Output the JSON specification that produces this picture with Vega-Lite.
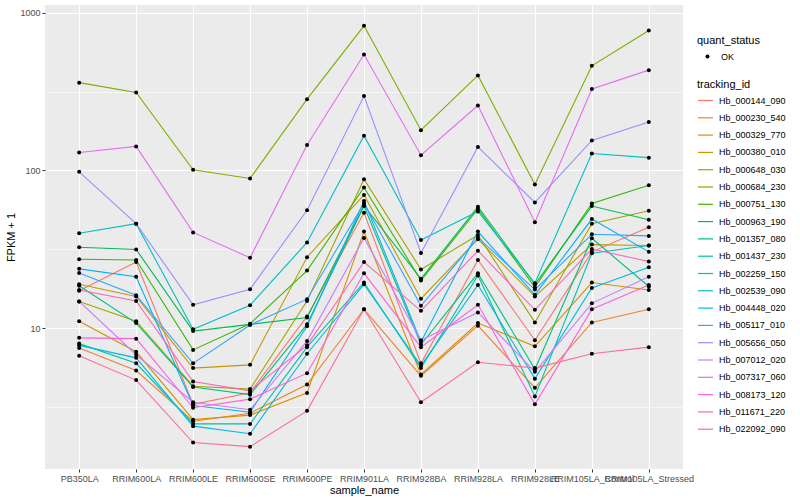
{
"$schema": "https://vega.github.io/schema/vega-lite/v6.json",
"width": 638, "height": 464,
"autosize": {"type": "none"},
"padding": {"left": 45, "top": 5, "right": 117, "bottom": 31},
"background": "white",
"config": {
  "view": {"fill": "#EBEBEB", "stroke": null},
  "font": "Liberation Sans",
  "axis": {"domain": false, "gridColor": "white", "tickColor": "#333333", "tickSize": 3, "labelColor": "#4D4D4D", "labelFontSize": 9, "labelFont": "Liberation Sans", "titleFont": "Liberation Sans", "titleFontSize": 11, "titleFontWeight": "normal", "titleColor": "black", "labelPadding": 2},
  "legend": {"titleFont": "Liberation Sans", "labelFont": "Liberation Sans", "titleFontSize": 11, "titleFontWeight": "normal", "labelFontSize": 9, "labelColor": "black", "titleColor": "black", "padding": 0}
},
"datasets": {"d": [
{"tracking_id":"Hb_000144_090","sample_name":"PB350LA","FPKM":17.3,"quant_status":"OK"},
{"tracking_id":"Hb_000144_090","sample_name":"RRIM600LA","FPKM":26.3,"quant_status":"OK"},
{"tracking_id":"Hb_000144_090","sample_name":"RRIM600LE","FPKM":3.3,"quant_status":"OK"},
{"tracking_id":"Hb_000144_090","sample_name":"RRIM600SE","FPKM":3.91,"quant_status":"OK"},
{"tracking_id":"Hb_000144_090","sample_name":"RRIM600PE","FPKM":11.9,"quant_status":"OK"},
{"tracking_id":"Hb_000144_090","sample_name":"RRIM901LA","FPKM":54,"quant_status":"OK"},
{"tracking_id":"Hb_000144_090","sample_name":"RRIM928BA","FPKM":6.0,"quant_status":"OK"},
{"tracking_id":"Hb_000144_090","sample_name":"RRIM928LA","FPKM":27.1,"quant_status":"OK"},
{"tracking_id":"Hb_000144_090","sample_name":"RRIM928LE","FPKM":8.4,"quant_status":"OK"},
{"tracking_id":"Hb_000144_090","sample_name":"RRIM105LA_Control","FPKM":30.5,"quant_status":"OK"},
{"tracking_id":"Hb_000144_090","sample_name":"RRIM105LA_Stressed","FPKM":43.7,"quant_status":"OK"},
{"tracking_id":"Hb_000230_540","sample_name":"PB350LA","FPKM":7.5,"quant_status":"OK"},
{"tracking_id":"Hb_000230_540","sample_name":"RRIM600LA","FPKM":5.4,"quant_status":"OK"},
{"tracking_id":"Hb_000230_540","sample_name":"RRIM600LE","FPKM":2.58,"quant_status":"OK"},
{"tracking_id":"Hb_000230_540","sample_name":"RRIM600SE","FPKM":2.9,"quant_status":"OK"},
{"tracking_id":"Hb_000230_540","sample_name":"RRIM600PE","FPKM":4.4,"quant_status":"OK"},
{"tracking_id":"Hb_000230_540","sample_name":"RRIM901LA","FPKM":13.2,"quant_status":"OK"},
{"tracking_id":"Hb_000230_540","sample_name":"RRIM928BA","FPKM":5.0,"quant_status":"OK"},
{"tracking_id":"Hb_000230_540","sample_name":"RRIM928LA","FPKM":10.4,"quant_status":"OK"},
{"tracking_id":"Hb_000230_540","sample_name":"RRIM928LE","FPKM":4.2,"quant_status":"OK"},
{"tracking_id":"Hb_000230_540","sample_name":"RRIM105LA_Control","FPKM":10.9,"quant_status":"OK"},
{"tracking_id":"Hb_000230_540","sample_name":"RRIM105LA_Stressed","FPKM":13.2,"quant_status":"OK"},
{"tracking_id":"Hb_000329_770","sample_name":"PB350LA","FPKM":11.1,"quant_status":"OK"},
{"tracking_id":"Hb_000329_770","sample_name":"RRIM600LA","FPKM":7.1,"quant_status":"OK"},
{"tracking_id":"Hb_000329_770","sample_name":"RRIM600LE","FPKM":2.64,"quant_status":"OK"},
{"tracking_id":"Hb_000329_770","sample_name":"RRIM600SE","FPKM":2.82,"quant_status":"OK"},
{"tracking_id":"Hb_000329_770","sample_name":"RRIM600PE","FPKM":3.9,"quant_status":"OK"},
{"tracking_id":"Hb_000329_770","sample_name":"RRIM901LA","FPKM":41,"quant_status":"OK"},
{"tracking_id":"Hb_000329_770","sample_name":"RRIM928BA","FPKM":5.1,"quant_status":"OK"},
{"tracking_id":"Hb_000329_770","sample_name":"RRIM928LA","FPKM":10.8,"quant_status":"OK"},
{"tracking_id":"Hb_000329_770","sample_name":"RRIM928LE","FPKM":7.7,"quant_status":"OK"},
{"tracking_id":"Hb_000329_770","sample_name":"RRIM105LA_Control","FPKM":19.5,"quant_status":"OK"},
{"tracking_id":"Hb_000329_770","sample_name":"RRIM105LA_Stressed","FPKM":17.5,"quant_status":"OK"},
{"tracking_id":"Hb_000380_010","sample_name":"PB350LA","FPKM":19,"quant_status":"OK"},
{"tracking_id":"Hb_000380_010","sample_name":"RRIM600LA","FPKM":15.9,"quant_status":"OK"},
{"tracking_id":"Hb_000380_010","sample_name":"RRIM600LE","FPKM":5.6,"quant_status":"OK"},
{"tracking_id":"Hb_000380_010","sample_name":"RRIM600SE","FPKM":5.87,"quant_status":"OK"},
{"tracking_id":"Hb_000380_010","sample_name":"RRIM600PE","FPKM":28.2,"quant_status":"OK"},
{"tracking_id":"Hb_000380_010","sample_name":"RRIM901LA","FPKM":70,"quant_status":"OK"},
{"tracking_id":"Hb_000380_010","sample_name":"RRIM928BA","FPKM":15.4,"quant_status":"OK"},
{"tracking_id":"Hb_000380_010","sample_name":"RRIM928LA","FPKM":36.7,"quant_status":"OK"},
{"tracking_id":"Hb_000380_010","sample_name":"RRIM928LE","FPKM":15.9,"quant_status":"OK"},
{"tracking_id":"Hb_000380_010","sample_name":"RRIM105LA_Control","FPKM":33.9,"quant_status":"OK"},
{"tracking_id":"Hb_000380_010","sample_name":"RRIM105LA_Stressed","FPKM":33.5,"quant_status":"OK"},
{"tracking_id":"Hb_000648_030","sample_name":"PB350LA","FPKM":14.8,"quant_status":"OK"},
{"tracking_id":"Hb_000648_030","sample_name":"RRIM600LA","FPKM":11.1,"quant_status":"OK"},
{"tracking_id":"Hb_000648_030","sample_name":"RRIM600LE","FPKM":4.3,"quant_status":"OK"},
{"tracking_id":"Hb_000648_030","sample_name":"RRIM600SE","FPKM":4.12,"quant_status":"OK"},
{"tracking_id":"Hb_000648_030","sample_name":"RRIM600PE","FPKM":14.9,"quant_status":"OK"},
{"tracking_id":"Hb_000648_030","sample_name":"RRIM901LA","FPKM":88,"quant_status":"OK"},
{"tracking_id":"Hb_000648_030","sample_name":"RRIM928BA","FPKM":23.6,"quant_status":"OK"},
{"tracking_id":"Hb_000648_030","sample_name":"RRIM928LA","FPKM":39,"quant_status":"OK"},
{"tracking_id":"Hb_000648_030","sample_name":"RRIM928LE","FPKM":10.9,"quant_status":"OK"},
{"tracking_id":"Hb_000648_030","sample_name":"RRIM105LA_Control","FPKM":46,"quant_status":"OK"},
{"tracking_id":"Hb_000648_030","sample_name":"RRIM105LA_Stressed","FPKM":55.6,"quant_status":"OK"},
{"tracking_id":"Hb_000684_230","sample_name":"PB350LA","FPKM":360,"quant_status":"OK"},
{"tracking_id":"Hb_000684_230","sample_name":"RRIM600LA","FPKM":312,"quant_status":"OK"},
{"tracking_id":"Hb_000684_230","sample_name":"RRIM600LE","FPKM":101,"quant_status":"OK"},
{"tracking_id":"Hb_000684_230","sample_name":"RRIM600SE","FPKM":89,"quant_status":"OK"},
{"tracking_id":"Hb_000684_230","sample_name":"RRIM600PE","FPKM":283,"quant_status":"OK"},
{"tracking_id":"Hb_000684_230","sample_name":"RRIM901LA","FPKM":824,"quant_status":"OK"},
{"tracking_id":"Hb_000684_230","sample_name":"RRIM928BA","FPKM":180,"quant_status":"OK"},
{"tracking_id":"Hb_000684_230","sample_name":"RRIM928LA","FPKM":400,"quant_status":"OK"},
{"tracking_id":"Hb_000684_230","sample_name":"RRIM928LE","FPKM":81.5,"quant_status":"OK"},
{"tracking_id":"Hb_000684_230","sample_name":"RRIM105LA_Control","FPKM":460,"quant_status":"OK"},
{"tracking_id":"Hb_000684_230","sample_name":"RRIM105LA_Stressed","FPKM":770,"quant_status":"OK"},
{"tracking_id":"Hb_000751_130","sample_name":"PB350LA","FPKM":27.4,"quant_status":"OK"},
{"tracking_id":"Hb_000751_130","sample_name":"RRIM600LA","FPKM":27.1,"quant_status":"OK"},
{"tracking_id":"Hb_000751_130","sample_name":"RRIM600LE","FPKM":7.3,"quant_status":"OK"},
{"tracking_id":"Hb_000751_130","sample_name":"RRIM600SE","FPKM":10.7,"quant_status":"OK"},
{"tracking_id":"Hb_000751_130","sample_name":"RRIM600PE","FPKM":23.2,"quant_status":"OK"},
{"tracking_id":"Hb_000751_130","sample_name":"RRIM901LA","FPKM":78,"quant_status":"OK"},
{"tracking_id":"Hb_000751_130","sample_name":"RRIM928BA","FPKM":20.1,"quant_status":"OK"},
{"tracking_id":"Hb_000751_130","sample_name":"RRIM928LA","FPKM":57,"quant_status":"OK"},
{"tracking_id":"Hb_000751_130","sample_name":"RRIM928LE","FPKM":18.2,"quant_status":"OK"},
{"tracking_id":"Hb_000751_130","sample_name":"RRIM105LA_Control","FPKM":61.8,"quant_status":"OK"},
{"tracking_id":"Hb_000751_130","sample_name":"RRIM105LA_Stressed","FPKM":80.5,"quant_status":"OK"},
{"tracking_id":"Hb_000963_190","sample_name":"PB350LA","FPKM":32.6,"quant_status":"OK"},
{"tracking_id":"Hb_000963_190","sample_name":"RRIM600LA","FPKM":31.6,"quant_status":"OK"},
{"tracking_id":"Hb_000963_190","sample_name":"RRIM600LE","FPKM":9.6,"quant_status":"OK"},
{"tracking_id":"Hb_000963_190","sample_name":"RRIM600SE","FPKM":10.6,"quant_status":"OK"},
{"tracking_id":"Hb_000963_190","sample_name":"RRIM600PE","FPKM":11.7,"quant_status":"OK"},
{"tracking_id":"Hb_000963_190","sample_name":"RRIM901LA","FPKM":60,"quant_status":"OK"},
{"tracking_id":"Hb_000963_190","sample_name":"RRIM928BA","FPKM":20.6,"quant_status":"OK"},
{"tracking_id":"Hb_000963_190","sample_name":"RRIM928LA","FPKM":59,"quant_status":"OK"},
{"tracking_id":"Hb_000963_190","sample_name":"RRIM928LE","FPKM":19,"quant_status":"OK"},
{"tracking_id":"Hb_000963_190","sample_name":"RRIM105LA_Control","FPKM":59.5,"quant_status":"OK"},
{"tracking_id":"Hb_000963_190","sample_name":"RRIM105LA_Stressed","FPKM":48.7,"quant_status":"OK"},
{"tracking_id":"Hb_001357_080","sample_name":"PB350LA","FPKM":18.6,"quant_status":"OK"},
{"tracking_id":"Hb_001357_080","sample_name":"RRIM600LA","FPKM":10.8,"quant_status":"OK"},
{"tracking_id":"Hb_001357_080","sample_name":"RRIM600LE","FPKM":4.25,"quant_status":"OK"},
{"tracking_id":"Hb_001357_080","sample_name":"RRIM600SE","FPKM":3.8,"quant_status":"OK"},
{"tracking_id":"Hb_001357_080","sample_name":"RRIM600PE","FPKM":10.6,"quant_status":"OK"},
{"tracking_id":"Hb_001357_080","sample_name":"RRIM901LA","FPKM":59.5,"quant_status":"OK"},
{"tracking_id":"Hb_001357_080","sample_name":"RRIM928BA","FPKM":7.9,"quant_status":"OK"},
{"tracking_id":"Hb_001357_080","sample_name":"RRIM928LA","FPKM":22.3,"quant_status":"OK"},
{"tracking_id":"Hb_001357_080","sample_name":"RRIM928LE","FPKM":5.5,"quant_status":"OK"},
{"tracking_id":"Hb_001357_080","sample_name":"RRIM105LA_Control","FPKM":37.2,"quant_status":"OK"},
{"tracking_id":"Hb_001357_080","sample_name":"RRIM105LA_Stressed","FPKM":18.4,"quant_status":"OK"},
{"tracking_id":"Hb_001437_230","sample_name":"PB350LA","FPKM":8.0,"quant_status":"OK"},
{"tracking_id":"Hb_001437_230","sample_name":"RRIM600LA","FPKM":6.0,"quant_status":"OK"},
{"tracking_id":"Hb_001437_230","sample_name":"RRIM600LE","FPKM":2.48,"quant_status":"OK"},
{"tracking_id":"Hb_001437_230","sample_name":"RRIM600SE","FPKM":2.48,"quant_status":"OK"},
{"tracking_id":"Hb_001437_230","sample_name":"RRIM600PE","FPKM":7.6,"quant_status":"OK"},
{"tracking_id":"Hb_001437_230","sample_name":"RRIM901LA","FPKM":19.5,"quant_status":"OK"},
{"tracking_id":"Hb_001437_230","sample_name":"RRIM928BA","FPKM":5.6,"quant_status":"OK"},
{"tracking_id":"Hb_001437_230","sample_name":"RRIM928LA","FPKM":21.6,"quant_status":"OK"},
{"tracking_id":"Hb_001437_230","sample_name":"RRIM928LE","FPKM":3.7,"quant_status":"OK"},
{"tracking_id":"Hb_001437_230","sample_name":"RRIM105LA_Control","FPKM":29.9,"quant_status":"OK"},
{"tracking_id":"Hb_001437_230","sample_name":"RRIM105LA_Stressed","FPKM":33.5,"quant_status":"OK"},
{"tracking_id":"Hb_002259_150","sample_name":"PB350LA","FPKM":40,"quant_status":"OK"},
{"tracking_id":"Hb_002259_150","sample_name":"RRIM600LA","FPKM":46,"quant_status":"OK"},
{"tracking_id":"Hb_002259_150","sample_name":"RRIM600LE","FPKM":9.87,"quant_status":"OK"},
{"tracking_id":"Hb_002259_150","sample_name":"RRIM600SE","FPKM":14.0,"quant_status":"OK"},
{"tracking_id":"Hb_002259_150","sample_name":"RRIM600PE","FPKM":35,"quant_status":"OK"},
{"tracking_id":"Hb_002259_150","sample_name":"RRIM901LA","FPKM":166,"quant_status":"OK"},
{"tracking_id":"Hb_002259_150","sample_name":"RRIM928BA","FPKM":36.3,"quant_status":"OK"},
{"tracking_id":"Hb_002259_150","sample_name":"RRIM928LA","FPKM":55,"quant_status":"OK"},
{"tracking_id":"Hb_002259_150","sample_name":"RRIM928LE","FPKM":19.3,"quant_status":"OK"},
{"tracking_id":"Hb_002259_150","sample_name":"RRIM105LA_Control","FPKM":128,"quant_status":"OK"},
{"tracking_id":"Hb_002259_150","sample_name":"RRIM105LA_Stressed","FPKM":120.5,"quant_status":"OK"},
{"tracking_id":"Hb_002539_090","sample_name":"PB350LA","FPKM":7.8,"quant_status":"OK"},
{"tracking_id":"Hb_002539_090","sample_name":"RRIM600LA","FPKM":6.5,"quant_status":"OK"},
{"tracking_id":"Hb_002539_090","sample_name":"RRIM600LE","FPKM":2.4,"quant_status":"OK"},
{"tracking_id":"Hb_002539_090","sample_name":"RRIM600SE","FPKM":2.15,"quant_status":"OK"},
{"tracking_id":"Hb_002539_090","sample_name":"RRIM600PE","FPKM":6.9,"quant_status":"OK"},
{"tracking_id":"Hb_002539_090","sample_name":"RRIM901LA","FPKM":19.0,"quant_status":"OK"},
{"tracking_id":"Hb_002539_090","sample_name":"RRIM928BA","FPKM":5.8,"quant_status":"OK"},
{"tracking_id":"Hb_002539_090","sample_name":"RRIM928LA","FPKM":18.8,"quant_status":"OK"},
{"tracking_id":"Hb_002539_090","sample_name":"RRIM928LE","FPKM":4.8,"quant_status":"OK"},
{"tracking_id":"Hb_002539_090","sample_name":"RRIM105LA_Control","FPKM":18.0,"quant_status":"OK"},
{"tracking_id":"Hb_002539_090","sample_name":"RRIM105LA_Stressed","FPKM":24.4,"quant_status":"OK"},
{"tracking_id":"Hb_004448_020","sample_name":"PB350LA","FPKM":23.8,"quant_status":"OK"},
{"tracking_id":"Hb_004448_020","sample_name":"RRIM600LA","FPKM":21.2,"quant_status":"OK"},
{"tracking_id":"Hb_004448_020","sample_name":"RRIM600LE","FPKM":3.24,"quant_status":"OK"},
{"tracking_id":"Hb_004448_020","sample_name":"RRIM600SE","FPKM":2.94,"quant_status":"OK"},
{"tracking_id":"Hb_004448_020","sample_name":"RRIM600PE","FPKM":10.3,"quant_status":"OK"},
{"tracking_id":"Hb_004448_020","sample_name":"RRIM901LA","FPKM":64,"quant_status":"OK"},
{"tracking_id":"Hb_004448_020","sample_name":"RRIM928BA","FPKM":8.2,"quant_status":"OK"},
{"tracking_id":"Hb_004448_020","sample_name":"RRIM928LA","FPKM":41,"quant_status":"OK"},
{"tracking_id":"Hb_004448_020","sample_name":"RRIM928LE","FPKM":16.3,"quant_status":"OK"},
{"tracking_id":"Hb_004448_020","sample_name":"RRIM105LA_Control","FPKM":49.2,"quant_status":"OK"},
{"tracking_id":"Hb_004448_020","sample_name":"RRIM105LA_Stressed","FPKM":30.5,"quant_status":"OK"},
{"tracking_id":"Hb_005117_010","sample_name":"PB350LA","FPKM":22.4,"quant_status":"OK"},
{"tracking_id":"Hb_005117_010","sample_name":"RRIM600LA","FPKM":16.2,"quant_status":"OK"},
{"tracking_id":"Hb_005117_010","sample_name":"RRIM600LE","FPKM":6.0,"quant_status":"OK"},
{"tracking_id":"Hb_005117_010","sample_name":"RRIM600SE","FPKM":10.5,"quant_status":"OK"},
{"tracking_id":"Hb_005117_010","sample_name":"RRIM600PE","FPKM":15.3,"quant_status":"OK"},
{"tracking_id":"Hb_005117_010","sample_name":"RRIM901LA","FPKM":62,"quant_status":"OK"},
{"tracking_id":"Hb_005117_010","sample_name":"RRIM928BA","FPKM":13.9,"quant_status":"OK"},
{"tracking_id":"Hb_005117_010","sample_name":"RRIM928LA","FPKM":37.5,"quant_status":"OK"},
{"tracking_id":"Hb_005117_010","sample_name":"RRIM928LE","FPKM":17.6,"quant_status":"OK"},
{"tracking_id":"Hb_005117_010","sample_name":"RRIM105LA_Control","FPKM":39.4,"quant_status":"OK"},
{"tracking_id":"Hb_005117_010","sample_name":"RRIM105LA_Stressed","FPKM":38.5,"quant_status":"OK"},
{"tracking_id":"Hb_005656_050","sample_name":"PB350LA","FPKM":98,"quant_status":"OK"},
{"tracking_id":"Hb_005656_050","sample_name":"RRIM600LA","FPKM":46,"quant_status":"OK"},
{"tracking_id":"Hb_005656_050","sample_name":"RRIM600LE","FPKM":14.1,"quant_status":"OK"},
{"tracking_id":"Hb_005656_050","sample_name":"RRIM600SE","FPKM":17.7,"quant_status":"OK"},
{"tracking_id":"Hb_005656_050","sample_name":"RRIM600PE","FPKM":56,"quant_status":"OK"},
{"tracking_id":"Hb_005656_050","sample_name":"RRIM901LA","FPKM":296,"quant_status":"OK"},
{"tracking_id":"Hb_005656_050","sample_name":"RRIM928BA","FPKM":30,"quant_status":"OK"},
{"tracking_id":"Hb_005656_050","sample_name":"RRIM928LA","FPKM":141,"quant_status":"OK"},
{"tracking_id":"Hb_005656_050","sample_name":"RRIM928LE","FPKM":62.7,"quant_status":"OK"},
{"tracking_id":"Hb_005656_050","sample_name":"RRIM105LA_Control","FPKM":155,"quant_status":"OK"},
{"tracking_id":"Hb_005656_050","sample_name":"RRIM105LA_Stressed","FPKM":203,"quant_status":"OK"},
{"tracking_id":"Hb_007012_020","sample_name":"PB350LA","FPKM":14.8,"quant_status":"OK"},
{"tracking_id":"Hb_007012_020","sample_name":"RRIM600LA","FPKM":6.8,"quant_status":"OK"},
{"tracking_id":"Hb_007012_020","sample_name":"RRIM600LE","FPKM":3.4,"quant_status":"OK"},
{"tracking_id":"Hb_007012_020","sample_name":"RRIM600SE","FPKM":3.05,"quant_status":"OK"},
{"tracking_id":"Hb_007012_020","sample_name":"RRIM600PE","FPKM":8.3,"quant_status":"OK"},
{"tracking_id":"Hb_007012_020","sample_name":"RRIM901LA","FPKM":37.4,"quant_status":"OK"},
{"tracking_id":"Hb_007012_020","sample_name":"RRIM928BA","FPKM":8.4,"quant_status":"OK"},
{"tracking_id":"Hb_007012_020","sample_name":"RRIM928LA","FPKM":12.6,"quant_status":"OK"},
{"tracking_id":"Hb_007012_020","sample_name":"RRIM928LE","FPKM":5.3,"quant_status":"OK"},
{"tracking_id":"Hb_007012_020","sample_name":"RRIM105LA_Control","FPKM":14.4,"quant_status":"OK"},
{"tracking_id":"Hb_007012_020","sample_name":"RRIM105LA_Stressed","FPKM":21.2,"quant_status":"OK"},
{"tracking_id":"Hb_007317_060","sample_name":"PB350LA","FPKM":130,"quant_status":"OK"},
{"tracking_id":"Hb_007317_060","sample_name":"RRIM600LA","FPKM":142,"quant_status":"OK"},
{"tracking_id":"Hb_007317_060","sample_name":"RRIM600LE","FPKM":40.5,"quant_status":"OK"},
{"tracking_id":"Hb_007317_060","sample_name":"RRIM600SE","FPKM":28,"quant_status":"OK"},
{"tracking_id":"Hb_007317_060","sample_name":"RRIM600PE","FPKM":145,"quant_status":"OK"},
{"tracking_id":"Hb_007317_060","sample_name":"RRIM901LA","FPKM":543,"quant_status":"OK"},
{"tracking_id":"Hb_007317_060","sample_name":"RRIM928BA","FPKM":125,"quant_status":"OK"},
{"tracking_id":"Hb_007317_060","sample_name":"RRIM928LA","FPKM":258,"quant_status":"OK"},
{"tracking_id":"Hb_007317_060","sample_name":"RRIM928LE","FPKM":47,"quant_status":"OK"},
{"tracking_id":"Hb_007317_060","sample_name":"RRIM105LA_Control","FPKM":328,"quant_status":"OK"},
{"tracking_id":"Hb_007317_060","sample_name":"RRIM105LA_Stressed","FPKM":432,"quant_status":"OK"},
{"tracking_id":"Hb_008173_120","sample_name":"PB350LA","FPKM":8.7,"quant_status":"OK"},
{"tracking_id":"Hb_008173_120","sample_name":"RRIM600LA","FPKM":8.6,"quant_status":"OK"},
{"tracking_id":"Hb_008173_120","sample_name":"RRIM600LE","FPKM":3.14,"quant_status":"OK"},
{"tracking_id":"Hb_008173_120","sample_name":"RRIM600SE","FPKM":3.56,"quant_status":"OK"},
{"tracking_id":"Hb_008173_120","sample_name":"RRIM600PE","FPKM":5.2,"quant_status":"OK"},
{"tracking_id":"Hb_008173_120","sample_name":"RRIM901LA","FPKM":22.3,"quant_status":"OK"},
{"tracking_id":"Hb_008173_120","sample_name":"RRIM928BA","FPKM":7.6,"quant_status":"OK"},
{"tracking_id":"Hb_008173_120","sample_name":"RRIM928LA","FPKM":14.1,"quant_status":"OK"},
{"tracking_id":"Hb_008173_120","sample_name":"RRIM928LE","FPKM":3.3,"quant_status":"OK"},
{"tracking_id":"Hb_008173_120","sample_name":"RRIM105LA_Control","FPKM":13.2,"quant_status":"OK"},
{"tracking_id":"Hb_008173_120","sample_name":"RRIM105LA_Stressed","FPKM":18.8,"quant_status":"OK"},
{"tracking_id":"Hb_011671_220","sample_name":"PB350LA","FPKM":17.5,"quant_status":"OK"},
{"tracking_id":"Hb_011671_220","sample_name":"RRIM600LA","FPKM":14.9,"quant_status":"OK"},
{"tracking_id":"Hb_011671_220","sample_name":"RRIM600LE","FPKM":4.6,"quant_status":"OK"},
{"tracking_id":"Hb_011671_220","sample_name":"RRIM600SE","FPKM":4.02,"quant_status":"OK"},
{"tracking_id":"Hb_011671_220","sample_name":"RRIM600PE","FPKM":7.8,"quant_status":"OK"},
{"tracking_id":"Hb_011671_220","sample_name":"RRIM901LA","FPKM":26.3,"quant_status":"OK"},
{"tracking_id":"Hb_011671_220","sample_name":"RRIM928BA","FPKM":12.9,"quant_status":"OK"},
{"tracking_id":"Hb_011671_220","sample_name":"RRIM928LA","FPKM":31,"quant_status":"OK"},
{"tracking_id":"Hb_011671_220","sample_name":"RRIM928LE","FPKM":13.1,"quant_status":"OK"},
{"tracking_id":"Hb_011671_220","sample_name":"RRIM105LA_Control","FPKM":31.8,"quant_status":"OK"},
{"tracking_id":"Hb_011671_220","sample_name":"RRIM105LA_Stressed","FPKM":26.5,"quant_status":"OK"},
{"tracking_id":"Hb_022092_090","sample_name":"PB350LA","FPKM":6.7,"quant_status":"OK"},
{"tracking_id":"Hb_022092_090","sample_name":"RRIM600LA","FPKM":4.7,"quant_status":"OK"},
{"tracking_id":"Hb_022092_090","sample_name":"RRIM600LE","FPKM":1.89,"quant_status":"OK"},
{"tracking_id":"Hb_022092_090","sample_name":"RRIM600SE","FPKM":1.78,"quant_status":"OK"},
{"tracking_id":"Hb_022092_090","sample_name":"RRIM600PE","FPKM":3.0,"quant_status":"OK"},
{"tracking_id":"Hb_022092_090","sample_name":"RRIM901LA","FPKM":13.2,"quant_status":"OK"},
{"tracking_id":"Hb_022092_090","sample_name":"RRIM928BA","FPKM":3.4,"quant_status":"OK"},
{"tracking_id":"Hb_022092_090","sample_name":"RRIM928LA","FPKM":6.1,"quant_status":"OK"},
{"tracking_id":"Hb_022092_090","sample_name":"RRIM928LE","FPKM":5.6,"quant_status":"OK"},
{"tracking_id":"Hb_022092_090","sample_name":"RRIM105LA_Control","FPKM":6.9,"quant_status":"OK"},
{"tracking_id":"Hb_022092_090","sample_name":"RRIM105LA_Stressed","FPKM":7.6,"quant_status":"OK"}
]},
"data": {"name": "d"},
"encoding": {
  "x": {"field": "sample_name", "type": "nominal", "sort": ["PB350LA","RRIM600LA","RRIM600LE","RRIM600SE","RRIM600PE","RRIM901LA","RRIM928BA","RRIM928LA","RRIM928LE","RRIM105LA_Control","RRIM105LA_Stressed"],
    "scale": {"type": "point", "padding": 0.6},
    "axis": {"title": "sample_name", "labelAngle": 0, "grid": true, "gridWidth": 1.1, "labelOverlap": false, "titlePadding": 1}},
  "y": {"field": "FPKM", "type": "quantitative", "scale": {"type": "log", "domain": [1.285, 1117], "nice": false, "zero": false}}
},
"layer": [
  {"mark": {"type": "line", "strokeWidth": 1.1},
   "encoding": {
     "y": {"field": "FPKM", "type": "quantitative", "axis": {"orient": "left", "values": [3.1623, 31.623, 316.23], "grid": true, "gridWidth": 0.55, "labels": false, "ticks": false, "title": null}},
     "color": {"field": "tracking_id", "type": "nominal",
       "scale": {"domain": ["Hb_000144_090","Hb_000230_540","Hb_000329_770","Hb_000380_010","Hb_000648_030","Hb_000684_230","Hb_000751_130","Hb_000963_190","Hb_001357_080","Hb_001437_230","Hb_002259_150","Hb_002539_090","Hb_004448_020","Hb_005117_010","Hb_005656_050","Hb_007012_020","Hb_007317_060","Hb_008173_120","Hb_011671_220","Hb_022092_090"],
         "range": ["#F8766D","#EA8331","#D89000","#C09B00","#A3A500","#7CAE00","#39B600","#00BB4E","#00BF7D","#00C1A3","#00BFC4","#00BAE0","#00B0F6","#35A2FF","#9590FF","#C77CFF","#E76BF3","#FA62DB","#FF62BC","#FF6C91"]},
       "legend": {"title": "tracking_id", "orient": "none", "legendX": 652, "legendY": 74, "symbolType": "stroke", "symbolSize": 225, "symbolStrokeWidth": 1.2, "labelOffset": 5, "rowPadding": 3.3, "titlePadding": 2}}
   }},
  {"mark": {"type": "point", "filled": true, "color": "black", "size": 16, "opacity": 1},
   "encoding": {
     "y": {"field": "FPKM", "type": "quantitative", "axis": {"orient": "left", "values": [10, 100, 1000], "grid": true, "gridWidth": 1.1, "title": "FPKM + 1", "titlePadding": 3, "format": "d"}},
     "shape": {"field": "quant_status", "type": "nominal", "scale": {"range": ["circle"]},
       "legend": {"title": "quant_status", "orient": "none", "legendX": 652, "legendY": 30, "symbolSize": 16, "symbolFillColor": "black", "symbolStrokeColor": "black", "symbolOffset": 6, "labelOffset": 9, "titlePadding": 6}}
   }}
],
"resolve": {"axis": {"y": "independent"}}
}
